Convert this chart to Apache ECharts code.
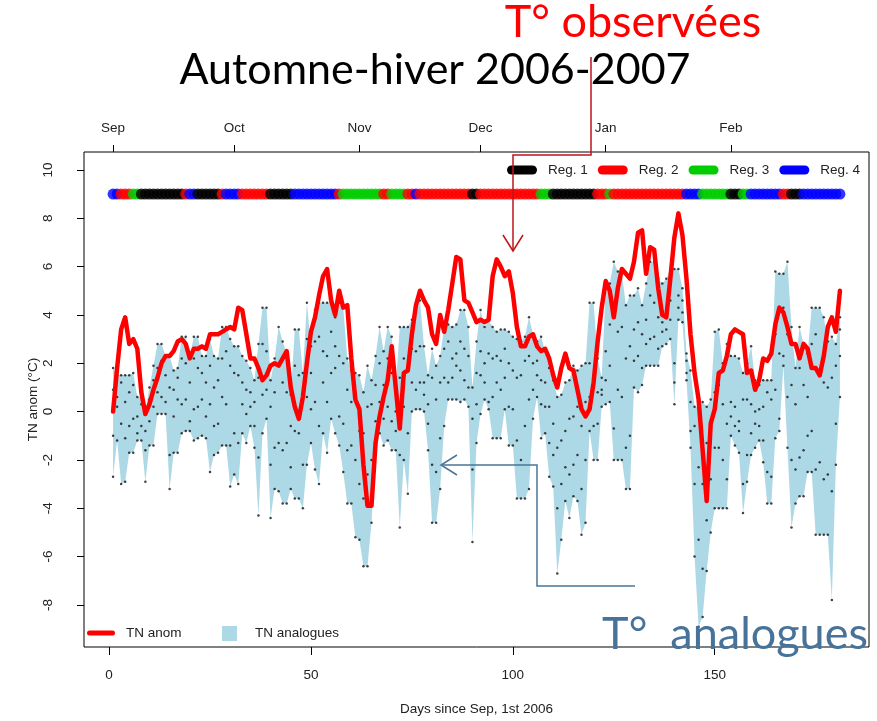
<!DOCTYPE html>
<html>
<head>
<meta charset="utf-8">
<script src="https://cdn.jsdelivr.net/npm/echarts@6/dist/echarts.min.js"></script>
<style>
  html, body { margin: 0; padding: 0; background: #fff; }
  #main { width: 877px; height: 721px; }
</style>
</head>
<body>
<div id="main"></div>
<script>
// valeurs, jour 1 = 1er septembre 2006
var tnAnom = [
  0.0, 1.8, 3.4, 3.9, 2.8, 3.0, 2.6, 0.8, -0.1, 0.3,
  0.9, 1.4, 2.0, 2.3, 2.3, 2.5, 2.9, 3.0, 2.8, 2.2,
  2.6, 2.6, 2.7, 2.6, 3.2, 3.2, 3.2, 3.3, 3.4, 3.5,
  3.4, 4.3, 4.2, 3.2, 2.2, 2.2, 1.8, 1.3, 1.5, 1.9,
  2.0, 1.9, 2.2, 2.5, 1.0, 0.2, -0.3, 0.6, 2.0, 3.3,
  3.9, 4.8, 5.6, 5.9, 4.6, 4.0, 5.0, 4.3, 4.4, 2.2,
  0.5, 0.1, -2.2, -3.9, -3.9, -1.3, -0.2, 0.6, 1.3, 2.7,
  1.0, -0.7, 1.6, 1.7, 3.2, 4.4, 5.0, 4.6, 4.3, 3.2,
  2.8, 4.0, 3.3, 4.2, 5.3, 6.4, 6.3, 4.6, 4.5, 4.1,
  3.7, 3.8, 3.7, 3.8, 5.6, 6.3, 6.0, 5.6, 5.8, 4.9,
  3.5, 2.7, 2.7, 3.1, 3.2, 2.7, 2.5, 2.6, 2.2, 1.5,
  1.0, 1.8, 2.4, 1.8, 1.7, 0.9, 0.1, -0.2, 0.1, 1.2,
  2.9, 4.3, 5.4, 5.0, 3.9, 5.1, 5.9, 5.7, 5.5, 6.2,
  7.4, 7.5, 5.7, 6.8, 6.7, 5.1, 4.0, 3.9, 5.5, 7.2,
  8.2, 7.3, 5.5, 3.2, 1.6, 0.5, -1.6, -3.7, -0.5, 0.1,
  1.6, 1.7, 2.3, 3.2, 3.4, 3.3, 3.2, 1.6, 1.7, 0.9,
  1.3, 2.2, 2.1, 2.4, 3.6, 4.3, 4.1, 3.5, 2.8, 2.8,
  2.2, 2.8, 2.6, 1.8, 1.8, 1.5, 2.3, 3.5, 3.9, 3.3, 5.0
]
var analogueMax = [
  1.8, 1.5, 1.5, 1.5, 1.5, 1.6, 0.6, 0.6, 0.0, 1.0,
  1.9, 2.8, 2.8, 2.3, 2.3, 1.7, 1.8, 3.1, 3.1, 2.3,
  3.1, 3.1, 2.3, 2.3, 3.0, 2.3, 2.2, 3.5, 3.5, 3.0,
  2.7, 2.7, 2.3, 2.1, 1.8, 1.3, 2.8, 4.3, 4.3, 1.3,
  2.2, 3.5, 2.9, 2.4, 0.7, 3.4, 3.4, 1.6, 4.5, 2.7,
  4.2, 4.5, 4.5, 4.5, 4.5, 3.9, 4.5, 4.3, 2.2, 1.7,
  1.6, 1.5, 0.8, 1.9, 1.3, 2.3, 3.5, 2.5, 3.5, 3.1,
  1.0, 3.5, 3.5, 3.5, 3.8, 4.4, 4.6, 2.7, 1.5, 2.6,
  1.9, 2.3, 3.5, 3.6, 3.5, 3.6, 4.2, 4.2, 3.5, 1.0,
  2.9, 4.2, 3.5, 3.8, 3.5, 3.3, 3.4, 3.4, 3.3, 3.1,
  3.0, 2.9, 3.1, 3.9, 3.2, 2.9, 3.1, 2.5, 1.8, 1.3,
  0.6, 0.7, 1.2, 1.3, 1.9, 1.7, 1.9, 2.0, 4.5, 4.5,
  2.2, 1.4, 5.2, 5.3, 6.2, 5.8, 5.7, 4.4, 4.8, 4.8,
  5.1, 4.4, 5.3, 6.2, 6.2, 5.5, 5.3, 5.5, 5.9, 5.9,
  5.9, 5.1, 2.4, 1.7, 0.2, 0.2, 0.4, 0.2, 0.5, 3.3,
  3.4, 2.0, 2.8, 2.3, 2.3, 2.2, 1.6, 2.0, 2.7, 1.3,
  1.1, 1.3, 1.3, 1.3, 5.8, 5.7, 5.7, 6.2, 3.5, 1.8,
  3.5, 2.8, 2.4, 4.3, 4.3, 4.3, 3.9, 2.9, 3.1, 2.8, 3.9
]
var analogueMin = [
  -2.7, -1.2, -3.0, -2.9, -1.7, -1.7, -1.2, -1.2, -2.9, -1.4,
  -1.4, -0.1, -0.1, -0.1, -3.2, -1.7, -1.7, -0.9, -0.8, -0.8,
  -1.2, -1.1, -1.0, -1.1, -2.5, -1.8, -1.7, -1.4, -1.4, -3.1,
  -2.6, -3.0, -0.9, -1.3, -0.6, -1.5, -4.3, -0.9, -0.3, -4.4,
  -3.2, -3.3, -3.8, -3.8, -3.2, -3.6, -3.6, -4.0, -2.2, -1.3,
  -2.4, -3.0, -0.9, -1.7, -0.3, -0.9, -1.4, -2.5, -3.8, -3.8,
  -5.2, -5.3, -6.4, -6.4, -4.6, -1.8, -0.9, -1.4, -1.2, -1.6,
  -1.6, -4.8, -2.0, -3.4, 0.0, 0.1, 0.1, 0.0, -1.6, -4.6,
  -4.6, -3.2, -0.6, 0.5, 0.5, 0.5, 0.4, 0.5, 0.2, -5.4,
  -1.3, -0.1, 0.5, 0.1, -1.1, -1.1, -1.1, 0.1, -1.4, -1.4,
  -3.6, -3.6, -3.6, -3.2, -0.3, 0.6, -1.1, -0.9, -2.7, -3.1,
  -6.7, -5.3, -3.7, -4.4, -3.5, -3.7, -5.1, -4.6, -0.8, -2.0,
  -2.0, 0.2, 0.3, 0.4, -2.0, -2.0, -2.0, -3.2, -3.2, 1.0,
  0.8, 1.1, 1.9, 1.9, 1.9, 1.9, 2.7, 2.8, 3.0, 0.3,
  3.8, 3.7, 1.3, -1.5, -6.0, -8.9, -8.5, -6.6, -5.0, -4.0,
  -4.0, -4.0, -4.0, -1.0, -1.4, -1.7, -4.2, -2.9, -1.8, -1.5,
  -1.2, -2.1, -3.8, -3.8, -1.1, -0.8, 1.9, -1.5, -4.8, -3.8,
  -3.5, -3.5, -2.5, -2.5, -5.1, -5.1, -5.1, -5.1, -7.8, -2.2, 0.6
]
// quelques analogues intermédiaires (points noirs)
var analogueHigh = [
  0.9, 0.6, 1.2, 0.4, 0.8, 1.1, -0.2, 0.3, -0.8, 0.5,
  1.3, 1.8, 2.1, 1.5, 1.0, 0.9, 1.4, 2.2, 2.0, 1.2,
  2.2, 1.8, 1.6, 1.2, 1.9, 1.0, 1.3, 2.2, 2.5, 1.9,
  1.6, 1.5, 1.2, 0.9, 0.8, 0.4, 1.4, 2.8, 2.5, 0.2,
  0.8, 1.9, 1.2, 0.8, -0.6, 1.9, 1.5, 0.4, 3.0, 1.6,
  2.9, 3.1, 2.5, 2.3, 3.3, 2.7, 2.3, 2.0, 0.9, 0.4,
  0.5, -0.8, -0.9, 0.2, 0.3, 1.1, 2.0, 1.1, 2.2, 1.6,
  0.0, 1.4, 2.2, 1.8, 2.6, 2.5, 2.7, 1.2, 0.3, 1.4,
  0.5, 1.2, 2.6, 2.9, 2.2, 2.4, 2.9, 2.6, 2.3, -0.3,
  1.6, 2.5, 2.0, 2.4, 2.2, 2.3, 2.1, 2.6, 2.0, 1.7,
  1.4, 1.5, 2.1, 2.3, 2.0, 2.1, 1.3, 1.2, 0.2, -0.5,
  -1.5, -1.2, -0.8, -0.3, -0.2, 0.2, -0.6, 0.4, 2.0, 1.5,
  0.8, 0.9, 2.5, 3.6, 3.9, 3.3, 3.5, 2.2, 2.7, 3.4,
  3.7, 3.2, 3.8, 4.8, 4.5, 3.9, 3.7, 4.2, 4.6, 2.0,
  4.8, 4.6, 2.1, 0.4, -0.6, -2.3, -3.0, -1.3, -0.4, 0.8,
  1.1, 0.3, -0.5, 0.4, 0.2, -0.4, 0.5, 0.5, 0.3, 0.0,
  0.1, 0.2, 0.8, 0.5, 3.2, 2.4, 4.3, 3.2, 1.1, 0.3,
  1.8, 1.1, 0.6, 2.8, 3.2, 1.5, 1.2, 1.0, 1.4, 1.9, 3.4
]
var analogueLow = [
  -1.0, 0.2, -0.5, -1.1, -0.6, -0.3, -0.9, -0.6, -1.6, -0.4,
  0.2, 0.8, 0.6, 0.4, -1.8, -0.2, 0.5, 0.3, 0.5, -0.4,
  0.1, 0.2, 0.5, -0.2, 0.3, -0.6, -0.5, 0.6, 0.3, -1.4,
  -0.9, -1.3, 0.3, -0.1, 0.2, -0.6, -1.9, 0.7, 0.9, -2.2,
  -1.5, -1.3, -1.6, -1.3, -2.3, -0.8, -0.9, -2.2, 0.6, 0.1,
  0.4, -0.6, 1.2, 0.4, 1.6, 1.8, -0.2, -0.5, -1.6, -1.4,
  -2.0, -3.0, -3.6, -2.6, -2.0, -0.4, 0.4, -0.3, 0.2, -0.4,
  -0.8, -1.8, 0.2, -0.9, 1.2, 0.9, 1.2, 0.7, -0.5, -2.2,
  -2.5, -1.1, 1.4, 1.2, 1.4, 1.9, 1.7, 1.3, 1.0, -2.4,
  0.3, 1.5, 1.2, 0.4, 0.6, 1.2, 0.9, 1.4, 0.2, 0.1,
  -1.2, -2.0, -0.6, 0.5, 0.9, 1.5, 0.3, 0.2, -1.3, -1.8,
  -4.0, -3.0, -2.3, -2.6, -2.2, -1.8, -3.2, -2.0, 0.6, -0.6,
  -0.5, 0.7, 1.3, 1.9, -0.7, 0.9, 0.6, -1.5, -1.0, 2.1,
  2.3, 1.8, 2.8, 3.0, 3.1, 2.6, 3.3, 3.4, 3.8, 1.2,
  4.3, 4.1, 1.6, -0.8, -3.0, -5.3, -6.5, -4.5, -2.8, -1.5,
  -1.5, -2.0, -2.8, -0.2, -0.6, -0.8, -3.0, -1.8, -0.9, -0.5,
  -0.6, -1.2, -2.5, -2.7, 0.9, -0.3, 2.3, 0.6, -2.0, -2.4,
  -1.9, -1.6, -1.0, -0.8, -2.4, -2.1, -2.8, -2.6, -3.3, -0.5, 2.3
]
// régime de temps de chaque jour (1 à 4)
var regimes = [
  4, 4, 2, 2, 2, 3, 3, 1, 1, 1,
  1, 1, 1, 1, 1, 1, 1, 1, 2, 4,
  4, 1, 1, 1, 1, 1, 1, 2, 4, 4,
  4, 4, 2, 2, 2, 2, 2, 2, 2, 1,
  1, 1, 1, 1, 1, 4, 4, 4, 4, 4,
  4, 4, 4, 4, 4, 4, 2, 3, 3, 3,
  3, 3, 3, 3, 3, 3, 3, 2, 2, 3,
  3, 3, 3, 2, 2, 4, 2, 2, 2, 2,
  2, 2, 2, 2, 2, 2, 2, 2, 2, 1,
  1, 2, 2, 2, 2, 2, 2, 2, 2, 2,
  2, 2, 2, 2, 2, 2, 3, 3, 3, 1,
  1, 1, 1, 1, 1, 1, 1, 1, 1, 1,
  2, 2, 2, 3, 2, 2, 2, 2, 2, 2,
  2, 2, 2, 2, 2, 2, 2, 2, 2, 2,
  2, 2, 4, 4, 4, 4, 3, 3, 3, 3,
  3, 3, 3, 1, 1, 1, 3, 3, 4, 4,
  4, 4, 4, 4, 4, 4, 2, 2, 1, 1,
  1, 4, 4, 4, 4, 4, 4, 4, 4, 4, 4
]
var regimeNames = ['Reg. 1', 'Reg. 2', 'Reg. 3', 'Reg. 4']
var regimeColors = ['#000000', '#ff0000', '#00cd00', '#0000ff']
var regimeLevel = 9
var monthDays = [1, 31, 62, 92, 123, 154]
var monthNames = ['Sep', 'Oct', 'Nov', 'Dec', 'Jan', 'Feb']
var dayTicks = [0, 50, 100, 150]
var tempTicks = [-8, -6, -4, -2, 0, 2, 4, 6, 8, 10]

var days = tnAnom.map(function (v, i) { return i + 1 })

var dots = []
days.forEach(function (d, i) {
  dots.push([d, analogueMax[i]], [d, analogueHigh[i]], [d, analogueLow[i]], [d, analogueMin[i]])
})

var axisFont = 'Liberation Sans, Helvetica, Arial, sans-serif'
var txt = { color: '#222', fontSize: 13.5, fontFamily: axisFont }
var capsule = function (w, h) {
  var r = h / 2
  return 'path://M' + r + ',0 L' + (w - r) + ',0 A' + r + ',' + r + ' 0 0 1 ' + (w - r) + ',' + h +
    ' L' + r + ',' + h + ' A' + r + ',' + r + ' 0 0 1 ' + r + ',0 Z'
}

var chart = echarts.init(document.getElementById('main'))

var seriesList = [
  {
    name: 'TN analogues',
    type: 'custom',
    color: '#add8e6',
    z: 1,
    silent: true,
    data: days.map(function (d, i) { return [d, analogueMin[i], analogueMax[i]] }),
    encode: { x: 0, y: [1, 2] },
    renderItem: function (params, api) {
      if (params.dataIndex !== 0) return
      var pts = []
      for (var i = 0; i < days.length; i++) pts.push(api.coord([days[i], analogueMax[i]]))
      for (var j = days.length - 1; j >= 0; j--) pts.push(api.coord([days[j], analogueMin[j]]))
      return { type: 'polygon', shape: { points: pts }, style: { fill: '#add8e6' } }
    }
  },
  {
    name: 'points',
    type: 'scatter',
    z: 2,
    silent: true,
    symbolSize: 2.5,
    itemStyle: { color: '#111' },
    data: dots
  },
  {
    name: 'TN anom',
    type: 'line',
    z: 3,
    silent: true,
    color: '#ff0000',
    symbol: 'none',
    lineStyle: { width: 4.5, color: '#ff0000', cap: 'round', join: 'round' },
    data: days.map(function (d, i) { return [d, tnAnom[i]] })
  },
  {
    name: 'regimes',
    type: 'scatter',
    z: 4,
    silent: true,
    symbolSize: 11,
    data: days.map(function (d, i) { return [d, regimeLevel, regimes[i]] }),
    itemStyle: {
      color: function (p) { return regimeColors[p.data[2] - 1] }
    }
  }
]
// séries vides pour la légende des régimes
regimeNames.forEach(function (n, i) {
  seriesList.push({ name: n, type: 'line', color: regimeColors[i], data: [] })
})

var option = {
  animation: false,
  backgroundColor: '#fff',
  grid: {
    left: 84, top: 152, width: 785, height: 496,
    show: true, borderColor: '#000', borderWidth: 1, backgroundColor: 'transparent'
  },
  legend: [
    {
      data: regimeNames.map(function (n) { return { name: n, icon: capsule(30, 9) } }),
      left: 502, top: 158, itemWidth: 30, itemHeight: 9, itemGap: 10,
      selectedMode: false, itemStyle: { borderWidth: 0 },
      textStyle: Object.assign({ padding: [0, 0, 0, 6] }, txt)
    },
    {
      data: [{ name: 'TN anom', icon: capsule(28, 5) }],
      left: 82, top: 621, itemWidth: 28, itemHeight: 5,
      selectedMode: false, itemStyle: { borderWidth: 0 },
      textStyle: Object.assign({ padding: [0, 0, 0, 6] }, txt)
    },
    {
      data: [{ name: 'TN analogues', icon: 'rect' }],
      left: 217, top: 621, itemWidth: 15, itemHeight: 15,
      selectedMode: false, itemStyle: { borderWidth: 0 },
      textStyle: Object.assign({ padding: [0, 0, 0, 13] }, txt)
    }
  ],
  xAxis: [
    {
      type: 'value', position: 'bottom', min: -6.2, max: 188.2,
      name: 'Days since Sep, 1st 2006', nameLocation: 'middle', nameGap: 55,
      nameTextStyle: txt,
      axisLine: { show: false, onZero: false },
      axisTick: { show: true, length: 8, customValues: dayTicks, lineStyle: { color: '#000' } },
      axisLabel: Object.assign({ customValues: dayTicks, margin: 21 }, txt),
      splitLine: { show: false }
    },
    {
      type: 'value', position: 'top', min: -6.2, max: 188.2,
      axisLine: { show: false, onZero: false },
      axisTick: { show: true, length: 7, customValues: monthDays, lineStyle: { color: '#000' } },
      axisLabel: Object.assign({
        customValues: monthDays, margin: 17,
        formatter: function (v) { return monthNames[monthDays.indexOf(v)] }
      }, txt),
      splitLine: { show: false }
    }
  ],
  yAxis: {
    type: 'value', min: -9.74, max: 10.74,
    name: 'TN anom (°C)', nameLocation: 'middle', nameGap: 44, nameRotate: 90,
    nameMoveOverlap: false,
    nameTextStyle: txt,
    axisLine: { show: false, onZero: false },
    axisTick: { show: true, length: 7, customValues: tempTicks, lineStyle: { color: '#000' } },
    axisLabel: Object.assign({ customValues: tempTicks, rotate: 90, margin: 29 }, txt),
    splitLine: { show: false }
  },
  graphic: [
    {
      type: 'text', z: 10,
      style: { text: 'Automne-hiver 2006-2007', x: 435, y: 70, textAlign: 'center', textVerticalAlign: 'middle',
        fill: '#000', font: '43px Lato, sans-serif' }
    },
    {
      type: 'text', z: 10,
      style: { text: 'T° observées', x: 633, y: 22, textAlign: 'center', textVerticalAlign: 'middle',
        fill: '#ff0000', font: '45px Lato, sans-serif' }
    },
    {
      type: 'text', z: 10,
      style: { text: 'T°  analogues', x: 735, y: 634, textAlign: 'center', textVerticalAlign: 'middle',
        fill: '#47739a', font: '45px Lato, sans-serif' }
    },
    {
      type: 'polyline', z: 10,
      shape: { points: [[591, 57], [591, 155], [513, 155], [513, 251]] },
      style: { stroke: '#c0141b', lineWidth: 1.5, fill: null }
    },
    {
      type: 'polyline', z: 10,
      shape: { points: [[503, 235], [513, 251], [523, 235]] },
      style: { stroke: '#c0141b', lineWidth: 1.5, fill: null }
    },
    {
      type: 'polyline', z: 10,
      shape: { points: [[635, 586], [537, 586], [537, 465], [441, 465]] },
      style: { stroke: '#4a7595', lineWidth: 1.5, fill: null }
    },
    {
      type: 'polyline', z: 10,
      shape: { points: [[457, 455], [441, 465], [457, 475]] },
      style: { stroke: '#4a7595', lineWidth: 1.5, fill: null }
    }
  ],
  series: seriesList
}
chart.setOption(option)
</script>
</body>
</html>
